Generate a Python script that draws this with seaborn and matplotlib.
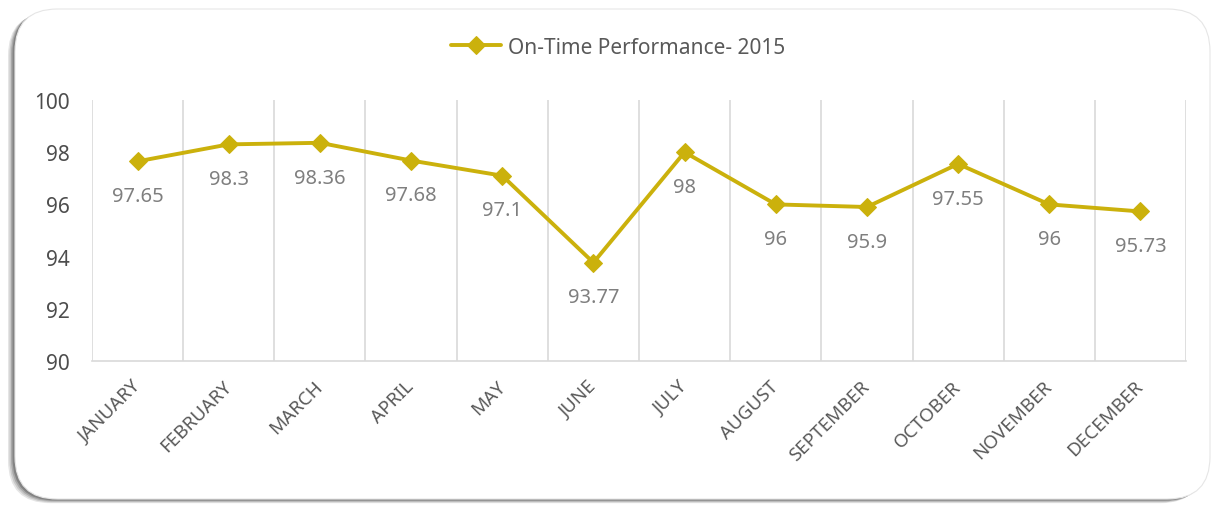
import pandas as pd
import seaborn as sns
import matplotlib.pyplot as plt
from matplotlib.patches import FancyBboxPatch

# Data
months = ['JANUARY', 'FEBRUARY', 'MARCH', 'APRIL', 'MAY', 'JUNE', 'JULY',
          'AUGUST', 'SEPTEMBER', 'OCTOBER', 'NOVEMBER', 'DECEMBER']
otp_2015 = [97.65, 98.3, 98.36, 97.68, 97.1, 93.77, 98, 96, 95.9, 97.55, 96, 95.73]
value_labels = ['97.65', '98.3', '98.36', '97.68', '97.1', '93.77', '98',
                '96', '95.9', '97.55', '96', '95.73']
y_ticks = [90, 92, 94, 96, 98, 100]
series_name = 'On-Time Performance- 2015'

LINE_COLOR = '#CBB10C'
TEXT_COLOR = '#595959'
YTICK_COLOR = '#4D4D4D'
LABEL_COLOR = '#7F7F7F'
GRID_COLOR = '#D9D9D9'

sns.set_theme(style="white")
plt.rcParams['font.family'] = ['Noto Sans', 'DejaVu Sans']

W, H = 1215, 506
fig = plt.figure(figsize=(W / 100, H / 100), dpi=100)

# rounded card with soft shadow
for i, a in enumerate([0.10, 0.12, 0.16, 0.22]):
    off = 7 - i * 1.5
    sh = FancyBboxPatch(((15 - off) / W, (H - 500 - off * 0.6) / H),
                        1195 / W, 490 / H,
                        boxstyle="round,pad=0,rounding_size=0.035",
                        transform=fig.transFigure, facecolor='black',
                        edgecolor='none', alpha=a, zorder=0,
                        mutation_aspect=W / H)
    fig.patches.append(sh)
card = FancyBboxPatch((15 / W, (H - 500) / H), 1195 / W, 490 / H,
                      boxstyle="round,pad=0,rounding_size=0.035",
                      transform=fig.transFigure, facecolor='white',
                      edgecolor='#E6E6E6', linewidth=0.8, zorder=1,
                      mutation_aspect=W / H)
fig.patches.append(card)

ax = fig.add_axes([92 / W, 1 - 362 / H, (1186 - 92) / W, (362 - 101) / H])
ax.set_facecolor('none')
ax.set_zorder(2)

df = pd.DataFrame({'month': months, 'value': otp_2015})
df['pos'] = range(len(months))

sns.lineplot(data=df, x='pos', y='value', ax=ax, color=LINE_COLOR,
             linewidth=2.8, marker='D', markersize=9.5, markeredgecolor=LINE_COLOR,
             label=series_name, legend=False)

for x, y, lab in zip(df['pos'], df['value'], value_labels):
    ax.annotate(lab, (x, y), xytext=(0, -25), textcoords='offset points',
                ha='center', va='center', fontsize=14.5, color=LABEL_COLOR)

ax.set_xlim(-0.5, len(months) - 0.5)
ax.set_ylim(90, 100)
ax.set_yticks(y_ticks)
ax.set_yticklabels([str(t) for t in y_ticks], fontsize=15, color=YTICK_COLOR)
ax.set_xticks(df['pos'])
ax.set_xticklabels(months, rotation=45, ha='right', va='center',
                   rotation_mode='anchor', fontsize=13.5, color=TEXT_COLOR)
ax.set_xticks([i - 0.5 for i in range(len(months) + 1)], minor=True)
ax.grid(False)
ax.grid(True, which='minor', axis='x', color=GRID_COLOR, linewidth=1.2)
ax.tick_params(axis='both', which='both', length=0)
ax.tick_params(axis='x', which='major', pad=16)
ax.tick_params(axis='y', pad=16)
ax.set_xlabel('')
ax.set_ylabel('')
for side in ['top', 'left', 'right']:
    ax.spines[side].set_visible(False)
ax.spines['bottom'].set_color(GRID_COLOR)
ax.spines['bottom'].set_linewidth(1.2)

handles, labels = ax.get_legend_handles_labels()
leg = fig.legend(handles, labels, loc='center', bbox_to_anchor=(618 / W, 1 - 48 / H),
                 frameon=False, fontsize=15, handlelength=2.4, handletextpad=0.3)
for t in leg.get_texts():
    t.set_color(TEXT_COLOR)

plt.savefig('out.png', dpi=100)
